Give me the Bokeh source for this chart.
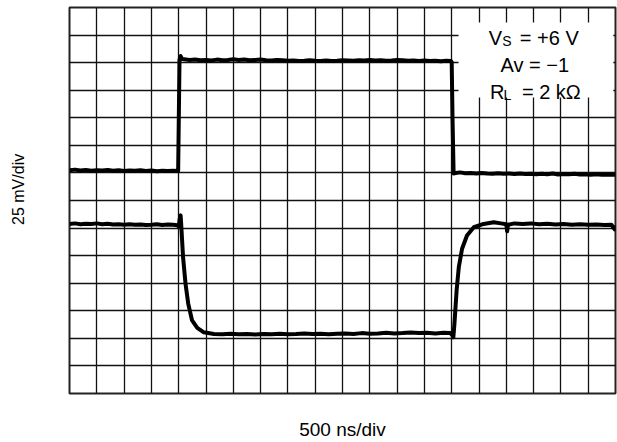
from bokeh.plotting import figure
from bokeh.models import Range1d, FixedTicker, Label, BoxAnnotation
from bokeh.embed import file_html
from bokeh.resources import INLINE

# ---- data (oscilloscope divisions: 20 horizontal x 14 vertical) ----
grid_x = list(range(0, 21))
grid_y = list(range(0, 15))

ch1_t = [0.0, 0.2, 0.4, 0.6, 0.8, 1.0, 1.2, 1.4, 1.6, 1.8, 2.0, 2.2, 2.4, 2.6, 2.8,
         3.0, 3.2, 3.4, 3.6, 3.8, 3.98, 4.03, 4.07, 4.12, 4.2, 4.4, 4.6, 4.8, 5.0,
         5.2, 5.4, 5.6, 5.8, 6.0, 6.2, 6.4, 6.6, 6.8, 7.0, 7.2, 7.4, 7.6, 7.8, 8.0,
         8.2, 8.4, 8.6, 8.8, 9.0, 9.2, 9.4, 9.6, 9.8, 10.0, 10.2, 10.4, 10.6, 10.8,
         11.0, 11.2, 11.4, 11.6, 11.8, 12.0, 12.2, 12.4, 12.6, 12.8, 13.0, 13.2,
         13.4, 13.6, 13.8, 13.97, 14.0, 14.03, 14.07, 14.1, 14.3, 14.5, 14.7, 14.9,
         15.1, 15.3, 15.5, 15.7, 15.9, 16.1, 16.3, 16.5, 16.7, 16.9, 17.1, 17.3,
         17.5, 17.7, 17.9, 18.1, 18.3, 18.5, 18.7, 18.9, 19.1, 19.3, 19.5, 19.7, 20.0]
ch1_v = [8.10, 8.12, 8.09, 8.11, 8.08, 8.10, 8.09, 8.11, 8.08, 8.10, 8.07, 8.09, 8.08, 8.10, 8.07,
         8.09, 8.06, 8.08, 8.07, 8.08, 8.07, 12.10, 12.24, 12.14, 12.12, 12.10, 12.11, 12.09, 12.10,
         12.08, 12.11, 12.09, 12.10, 12.12, 12.10, 12.11, 12.09, 12.10, 12.11, 12.09, 12.08, 12.10, 12.09, 12.07,
         12.08, 12.06, 12.07, 12.09, 12.07, 12.06, 12.08, 12.06, 12.07, 12.09, 12.08, 12.07, 12.09, 12.08,
         12.10, 12.08, 12.09, 12.07, 12.08, 12.10, 12.09, 12.07, 12.08, 12.06, 12.08, 12.06,
         12.07, 12.05, 12.07, 12.06, 12.02, 10.0, 7.98, 7.99, 8.02, 7.99, 8.00, 7.98,
         8.00, 7.98, 7.97, 7.99, 7.97, 7.98, 7.96, 7.98, 7.96, 7.97, 7.95, 7.97,
         7.95, 7.98, 7.94, 7.96, 7.95, 7.97, 7.94, 7.95, 7.93, 7.95, 7.93, 7.94, 7.93]

ch2_t = [0.0, 0.2, 0.4, 0.6, 0.8, 1.0, 1.2, 1.4, 1.6, 1.8, 2.0, 2.2, 2.4, 2.6, 2.8,
         3.0, 3.2, 3.4, 3.6, 3.8, 3.95, 4.0, 4.04, 4.07, 4.09, 4.16, 4.25, 4.35, 4.49,
         4.68, 4.92, 5.29, 5.6, 5.9, 6.2, 6.5, 6.8, 7.1, 7.4, 7.7, 8.0, 8.3, 8.6, 8.9,
         9.2, 9.5, 9.8, 10.1, 10.4, 10.7, 11.0, 11.3, 11.6, 11.9, 12.2, 12.5, 12.8,
         13.1, 13.4, 13.7, 13.95, 14.02, 14.06, 14.1, 14.18, 14.26, 14.38, 14.56,
         14.81, 15.17, 15.54, 15.8, 16.0, 16.03, 16.06, 16.3, 16.6, 16.9, 17.2, 17.5,
         17.8, 18.1, 18.4, 18.7, 19.0, 19.3, 19.6, 19.85, 19.97, 20.0]
ch2_v = [6.15, 6.17, 6.14, 6.16, 6.15, 6.17, 6.14, 6.16, 6.13, 6.14, 6.12, 6.14, 6.12, 6.13, 6.11,
         6.12, 6.14, 6.11, 6.13, 6.12, 6.10, 6.06, 6.35, 6.46, 6.15, 4.94, 3.98, 3.25, 2.65,
         2.38, 2.22, 2.16, 2.15, 2.17, 2.15, 2.16, 2.14, 2.16, 2.15, 2.17, 2.15, 2.16, 2.18, 2.16,
         2.17, 2.15, 2.17, 2.18, 2.16, 2.19, 2.17, 2.18, 2.20, 2.18, 2.19, 2.21, 2.19,
         2.20, 2.18, 2.20, 2.19, 2.12, 2.04, 2.53, 3.74, 4.58, 5.25, 5.73,
         6.03, 6.15, 6.21, 6.17, 6.14, 5.88, 6.12, 6.17, 6.15, 6.17, 6.14, 6.16,
         6.13, 6.15, 6.12, 6.14, 6.12, 6.13, 6.11, 6.12, 5.95, 6.10]

x_label = "500 ns/div"
y_label = "25 mV/div"

FONT = "Liberation Sans"

p = figure(width=617, height=442, output_backend="svg", toolbar_location=None,
           x_range=Range1d(0, 20), y_range=Range1d(0, 14),
           min_border_left=69, min_border_right=2, min_border_top=7, min_border_bottom=49)

for ax in (p.xaxis[0], p.yaxis[0]):
    ax.ticker = FixedTicker(ticks=[])
    ax.major_tick_line_color = None
    ax.minor_tick_line_color = None
    ax.axis_line_color = None
    ax.major_label_text_font_size = "0px"
    ax.major_label_standoff = 0
    ax.major_tick_out = 0
    ax.major_tick_in = 0
    ax.minor_tick_out = 0
    ax.axis_label_text_font = FONT
    ax.axis_label_text_font_style = "normal"
    ax.axis_label_text_color = "black"

p.xaxis.axis_label = x_label
p.xaxis.axis_label_text_font_size = "19px"
p.xaxis.axis_label_standoff = 25
# leading no-break spaces lift the rotated caption a little above the frame centre
p.yaxis.axis_label = "\u00a0" * 5 + y_label
p.yaxis.axis_label_text_font_size = "16px"
p.yaxis.axis_label_standoff = 43

p.xgrid.ticker = FixedTicker(ticks=grid_x)
p.ygrid.ticker = FixedTicker(ticks=grid_y)
p.grid.grid_line_color = "#111111"
p.grid.grid_line_width = 1.3
p.grid.grid_line_alpha = 1.0
p.outline_line_color = "#222222"
p.outline_line_width = 2
p.background_fill_color = "white"
p.border_fill_color = "white"

p.line(ch1_t, ch1_v, line_color="black", line_width=4, line_join="round")
p.line(ch2_t, ch2_v, line_color="black", line_width=4, line_join="round")

# white box for the annotation text
p.add_layout(BoxAnnotation(left=14.25, right=19.92, bottom=10.74, top=13.46,
                           fill_color="white", fill_alpha=1.0, line_color=None,
                           level="annotation"))

def lab(x, y, text, size=20, xo=0, yo=0):
    p.add_layout(Label(x=x, y=y, text=text, x_offset=xo, y_offset=yo,
                       text_font=FONT, text_font_size=f"{size}px", text_color="black",
                       text_align="left", text_baseline="alphabetic"))

# V_S = +6 V
lab(15.36, 12.90, "V")
lab(15.36, 12.90, "S", size=14, xo=13.3, yo=-3)
lab(15.36, 12.90, "= +6 V", xo=31)
# Av = -1
lab(15.79, 11.90, "Av = \u22121")
# R_L = 2 kΩ
lab(15.40, 10.93, "R")
lab(15.40, 10.93, "L", size=14, xo=13.6, yo=-3)
lab(15.40, 10.93, "= 2 k\u03a9", xo=32)

open("out.html", "w").write(file_html(p, INLINE))
